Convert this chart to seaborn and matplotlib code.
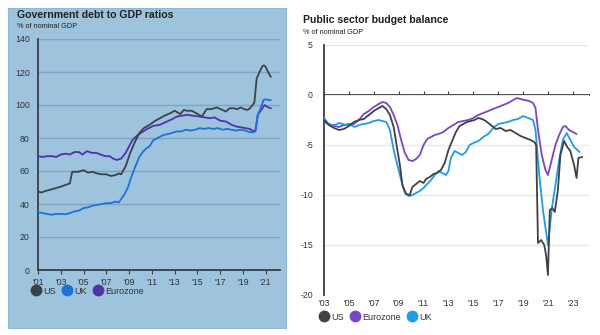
import matplotlib
matplotlib.use("Agg")
import matplotlib.pyplot as plt
import seaborn as sns
import pandas as pd
from matplotlib.lines import Line2D

# ---------------- Data: Government debt to GDP (% of nominal GDP) ----------------
debt_us_years = [2001.0, 2001.3, 2001.7, 2002.0, 2002.5, 2003.0, 2003.4, 2003.8, 2004.0, 2004.5,
                 2005.0, 2005.4, 2005.8, 2006.2, 2006.6, 2007.0, 2007.4, 2007.8, 2008.1, 2008.3,
                 2008.7, 2009.1, 2009.5, 2009.9, 2010.3, 2010.8, 2011.2, 2011.7, 2012.1, 2012.6,
                 2013.0, 2013.5, 2013.8, 2014.1, 2014.5, 2014.9, 2015.4, 2015.8, 2016.2, 2016.7,
                 2017.2, 2017.5, 2017.8, 2018.2, 2018.5, 2018.8, 2019.1, 2019.4, 2019.6, 2019.85,
                 2020.0, 2020.2, 2020.45, 2020.7, 2020.85, 2021.0, 2021.2, 2021.45]
debt_us = [47.5, 47.0, 48.0, 48.5, 49.5, 50.5, 51.5, 52.5, 59.5, 59.5,
           60.5, 59.0, 59.5, 58.5, 58.0, 58.0, 57.0, 57.5, 58.5, 58.0,
           63.0, 71.0, 77.5, 83.0, 86.0, 88.0, 90.0, 92.0, 93.5, 95.0,
           96.5, 94.5, 97.0, 96.5, 96.5, 95.0, 93.0, 97.5, 97.5, 98.5,
           97.0, 96.0, 98.0, 98.0, 97.5, 98.5, 97.5, 97.0, 98.0, 100.0,
           101.5, 116.0, 120.0, 123.5, 124.0, 123.0, 120.0, 117.0]

debt_uk_years = [2001.0, 2001.4, 2001.8, 2002.2, 2002.6, 2003.0, 2003.4, 2003.8, 2004.2, 2004.6,
                 2005.0, 2005.4, 2005.8, 2006.2, 2006.6, 2007.0, 2007.4, 2007.8, 2008.1, 2008.3,
                 2008.6, 2008.9, 2009.1, 2009.5, 2009.9, 2010.2, 2010.5, 2010.8, 2011.1, 2011.5,
                 2012.0, 2012.5, 2013.2, 2013.6, 2014.0, 2014.4, 2014.8, 2015.2, 2015.6, 2016.0,
                 2016.4, 2016.8, 2017.2, 2017.6, 2018.0, 2018.4, 2018.8, 2019.2, 2019.6, 2019.9,
                 2020.1, 2020.3, 2020.55, 2020.8, 2021.0, 2021.2, 2021.45]
debt_uk = [35.0, 34.5, 34.0, 33.5, 34.0, 34.0, 33.8, 34.5, 35.5, 36.0,
           37.5, 38.0, 39.0, 39.5, 40.0, 40.5, 40.5, 41.5, 41.0, 43.0,
           46.0, 50.0, 54.5, 62.0, 68.5, 71.5, 73.7, 75.0, 78.5, 80.0,
           81.8, 82.5, 84.0, 84.0, 85.0, 84.5, 85.0, 86.0, 85.5, 86.0,
           85.5, 86.0, 85.0, 85.5, 85.0, 84.5, 85.0, 84.5, 83.5, 83.5,
           84.0, 94.0, 98.0, 103.0, 103.5, 103.0, 103.0]

debt_ez_years = [2001.0, 2001.4, 2001.8, 2002.2, 2002.6, 2003.0, 2003.4, 2003.8, 2004.2, 2004.6,
                 2004.9, 2005.3, 2005.7, 2006.1, 2006.5, 2006.9, 2007.3, 2007.6, 2007.9, 2008.3,
                 2008.7, 2009.0, 2009.3, 2009.7, 2010.2, 2010.6, 2011.1, 2011.7, 2012.3, 2012.8,
                 2013.2, 2013.6, 2014.1, 2014.6, 2015.2, 2015.6, 2016.1, 2016.5, 2017.0, 2017.5,
                 2018.0, 2018.4, 2018.8, 2019.2, 2019.6, 2019.9, 2020.1, 2020.3, 2020.6, 2020.9,
                 2021.1, 2021.45]
debt_ez = [69.0, 68.5, 69.0, 69.0, 68.5, 70.0, 70.5, 70.0, 71.5, 71.5,
           70.0, 72.0, 71.0, 71.0, 70.0, 69.0, 69.0, 67.5, 66.7, 67.5,
           71.0, 75.0, 78.8, 81.5, 83.8, 85.5, 87.3, 88.0, 89.9, 91.5,
           93.0, 93.5, 94.0, 93.5, 93.0, 92.5, 92.0, 92.5, 90.5, 90.0,
           88.0, 87.0, 86.5, 86.0, 85.5, 84.0, 85.0, 94.0, 97.0, 100.0,
           99.0, 98.0]

debt_ticks = [2001, 2003, 2005, 2007, 2009, 2011, 2013, 2015, 2017, 2019, 2021]
debt_tick_labels = ["'01", "'03", "'05", "'07", "'09", "'11", "'13", "'15", "'17", "'19", "'21"]

# ---------------- Data: Public sector budget balance (% of nominal GDP) ----------------
bal_us_years = [2003.0, 2003.4, 2003.8, 2004.2, 2004.6, 2005.0, 2005.4, 2005.8, 2006.2, 2006.6,
                2007.0, 2007.4, 2007.7, 2008.0, 2008.3, 2008.6, 2008.9, 2009.1, 2009.3, 2009.6,
                2009.9, 2010.1, 2010.4, 2010.7, 2011.0, 2011.2, 2011.5, 2011.8, 2012.1, 2012.4,
                2012.7, 2013.0, 2013.3, 2013.6, 2013.9, 2014.2, 2014.5, 2014.8, 2015.1, 2015.4,
                2015.7, 2016.0, 2016.4, 2016.8, 2017.2, 2017.6, 2018.0, 2018.4, 2018.8, 2019.2,
                2019.6, 2019.9, 2020.05, 2020.2, 2020.45, 2020.7, 2020.85, 2021.0, 2021.15, 2021.35,
                2021.55, 2021.8, 2022.0, 2022.3, 2022.55, 2022.8, 2023.1, 2023.3, 2023.45, 2023.75]
bal_us = [-2.5, -3.0, -3.3, -3.5, -3.4, -3.1, -2.7, -2.5, -2.4, -2.0,
          -1.6, -1.3, -1.1, -1.4, -2.0, -3.2, -5.5, -7.0, -9.0, -9.9,
          -10.0, -9.2, -8.9, -8.6, -8.8, -8.4, -8.2, -7.9, -7.8, -7.5,
          -6.8, -5.5, -4.6, -3.7, -3.1, -2.9, -2.7, -2.6, -2.5, -2.3,
          -2.4, -2.6, -3.0, -3.4, -3.3, -3.6, -3.5, -3.8, -4.1, -4.3,
          -4.5, -4.7, -5.0, -14.8, -14.5, -15.0, -16.0, -18.0, -11.5, -11.3,
          -11.7, -9.5, -6.0, -4.6, -5.2, -5.6, -7.0, -8.3, -6.3, -6.2]

bal_ez_years = [2003.0, 2003.4, 2003.8, 2004.2, 2004.6, 2005.0, 2005.4, 2005.8, 2006.2, 2006.6,
                2007.0, 2007.4, 2007.7, 2008.0, 2008.3, 2008.6, 2008.9, 2009.2, 2009.5, 2009.8,
                2010.1, 2010.4, 2010.7, 2011.0, 2011.3, 2011.6, 2011.9, 2012.2, 2012.6, 2013.0,
                2013.4, 2013.8, 2014.2, 2014.6, 2015.0, 2015.4, 2015.8, 2016.2, 2016.6, 2017.0,
                2017.4, 2017.8, 2018.2, 2018.5, 2018.8, 2019.1, 2019.5, 2019.8, 2020.0, 2020.2,
                2020.5, 2020.8, 2021.0, 2021.3, 2021.6, 2021.9, 2022.2, 2022.4, 2022.7, 2023.0,
                2023.3]
bal_ez = [-2.6, -3.0, -3.1, -3.2, -3.0, -2.9, -2.9, -2.5, -1.9, -1.6,
          -1.2, -0.9, -0.7, -0.8, -1.2, -2.0, -3.0, -4.5, -5.8, -6.5,
          -6.6, -6.4, -6.0, -5.0, -4.4, -4.2, -4.0, -3.9, -3.7, -3.3,
          -3.0, -2.7, -2.6, -2.5, -2.3, -2.0, -1.8, -1.6, -1.4, -1.2,
          -1.0, -0.8, -0.5, -0.3, -0.4, -0.5, -0.6, -0.8, -1.3, -3.5,
          -6.0, -7.5, -8.0, -6.5, -5.0, -4.0, -3.2, -3.1, -3.5, -3.7,
          -3.9]

bal_uk_years = [2003.0, 2003.3, 2003.6, 2003.9, 2004.2, 2004.5, 2004.8, 2005.1, 2005.5, 2005.8,
                2006.2, 2006.6, 2007.0, 2007.4, 2007.7, 2008.0, 2008.3, 2008.6, 2008.9, 2009.2,
                2009.5, 2009.8, 2010.1, 2010.4, 2010.7, 2011.0, 2011.3, 2011.6, 2011.9, 2012.2,
                2012.5, 2012.8, 2013.0, 2013.2, 2013.5, 2013.8, 2014.1, 2014.4, 2014.7, 2015.0,
                2015.4, 2015.8, 2016.2, 2016.6, 2017.0, 2017.4, 2017.8, 2018.2, 2018.6, 2019.0,
                2019.4, 2019.8, 2020.0, 2020.3, 2020.6, 2021.0, 2021.3, 2021.6, 2021.9, 2022.2,
                2022.5, 2022.8, 2023.1, 2023.55]
bal_uk = [-2.3, -2.8, -3.0, -3.0, -2.8, -2.9, -3.0, -3.0, -3.2, -3.0,
          -2.9, -2.8, -2.6, -2.5, -2.6, -2.7, -3.5, -5.5, -7.0, -8.5,
          -9.8, -10.1, -10.0, -9.8, -9.6, -9.3, -8.9, -8.5, -8.0, -7.6,
          -7.8, -8.0, -7.6, -6.3, -5.6, -5.8, -6.0, -5.7, -5.0, -4.8,
          -4.6, -4.2, -3.9, -3.3, -2.9, -2.8, -2.7, -2.5, -2.4, -2.1,
          -2.3, -2.5, -3.5, -8.0, -11.5, -15.0, -11.5, -9.0, -6.5, -4.5,
          -3.8, -4.5, -5.2, -5.7]

bal_ticks = [2003, 2005, 2007, 2009, 2011, 2013, 2015, 2017, 2019, 2021, 2023]
bal_tick_labels = ["'03", "'05", "'07", "'09", "'11", "'13", "'15", "'17", "'19", "'21", "'23"]

# ---------------- Styling ----------------
sns.set_theme(style="white")
plt.rcParams["font.family"] = ["Liberation Sans", "DejaVu Sans"]
plt.rcParams["axes.unicode_minus"] = False

C_US = "#3d4246"
C_UK_L = "#1a73d9"
C_EZ_L = "#5230ae"
C_UK_R = "#1e9bf0"
C_EZ_R = "#7a45c9"
BG = "#9dc3dd"
TXT = "#333333"

fig = plt.figure(figsize=(6.0, 3.35), dpi=100)
fig.patch.set_facecolor("white")

# Left panel background box (drawn on its own background axes)
bg_ax = fig.add_axes([8 / 600, 1 - 328 / 335, 278 / 600, 320 / 335])
bg_ax.set_zorder(0)
bg_ax.set_facecolor(BG)
bg_ax.set_xticks([])
bg_ax.set_yticks([])
for sp in bg_ax.spines.values():
    sp.set_color("#8fb8d6")
    sp.set_linewidth(0.8)

# ---------- Left chart ----------
axL = fig.add_axes([38 / 600, 1 - 270 / 335, 242 / 600, 231 / 335])
axL.set_zorder(1)
axL.set_facecolor(BG)
dfL = pd.concat([
    pd.DataFrame({"year": debt_us_years, "val": debt_us, "s": "US"}),
    pd.DataFrame({"year": debt_uk_years, "val": debt_uk, "s": "UK"}),
    pd.DataFrame({"year": debt_ez_years, "val": debt_ez, "s": "Eurozone"}),
])
sns.lineplot(data=dfL, x="year", y="val", hue="s",
             palette={"US": C_US, "UK": C_UK_L, "Eurozone": C_EZ_L},
             hue_order=["Eurozone", "UK", "US"],
             linewidth=1.3, legend=False, ax=axL, zorder=3)
axL.set_xlim(2001, 2022.25)
axL.set_ylim(0, 140)
axL.set_yticks(range(0, 141, 20))
axL.set_xticks(debt_ticks)
axL.set_xticklabels(debt_tick_labels)
axL.grid(axis="y", color="#7ea5c2", linewidth=1.0, zorder=1)
axL.set_axisbelow(True)
for sp in ["top", "right"]:
    axL.spines[sp].set_visible(False)
for sp in ["left", "bottom"]:
    axL.spines[sp].set_color("#3a3f44")
    axL.spines[sp].set_linewidth(1.3)
axL.tick_params(axis="y", length=0, labelsize=6.3, labelcolor=TXT, pad=6)
axL.tick_params(axis="x", length=3, width=0.8, color="#3a3f44", direction="out",
                labelsize=6.3, labelcolor=TXT, pad=3, bottom=True)
axL.set_xlabel("")
axL.set_ylabel("")

fig.text(17 / 600, 1 - 15 / 335, "Government debt to GDP ratios", fontsize=7.6,
         fontweight="bold", color="#222222", va="center", ha="left", zorder=5)
fig.text(17 / 600, 1 - 26 / 335, "% of nominal GDP", fontsize=5.3,
         color="#222222", va="center", ha="left", zorder=5)

hL = [Line2D([], [], marker="o", linestyle="", markersize=7.5, color=c, label=l)
      for c, l in [(C_US, "US"), (C_UK_L, "UK"), (C_EZ_L, "Eurozone")]]
legL = fig.legend(handles=hL, loc="center left", bbox_to_anchor=(27 / 600, 1 - 291 / 335),
                  ncol=3, frameon=False, fontsize=6.5, handletextpad=0.3,
                  columnspacing=0.75, borderpad=0, handlelength=1.0,
                  labelcolor="#333333")
legL.set_zorder(5)

# ---------- Right chart ----------
axR = fig.add_axes([324 / 600, 1 - 295 / 335, 265 / 600, 250 / 335])
axR.set_facecolor("white")
dfR = pd.concat([
    pd.DataFrame({"year": bal_us_years, "val": bal_us, "s": "US"}),
    pd.DataFrame({"year": bal_ez_years, "val": bal_ez, "s": "Eurozone"}),
    pd.DataFrame({"year": bal_uk_years, "val": bal_uk, "s": "UK"}),
])
sns.lineplot(data=dfR, x="year", y="val", hue="s",
             palette={"US": C_US, "UK": C_UK_R, "Eurozone": C_EZ_R},
             hue_order=["Eurozone", "UK", "US"],
             linewidth=1.3, legend=False, ax=axR, zorder=3)
axR.set_xlim(2003, 2024.3)
axR.set_ylim(-20, 5)
axR.set_yticks(range(-20, 6, 5))
axR.set_xticks(bal_ticks)
axR.set_xticklabels(bal_tick_labels)
axR.grid(axis="y", color="#e6e6e6", linewidth=0.9, zorder=1)
axR.set_axisbelow(True)
for sp in ["top", "right", "bottom"]:
    axR.spines[sp].set_visible(False)
axR.spines["left"].set_color("#3a3f44")
axR.spines["left"].set_linewidth(1.3)
axR.tick_params(axis="y", length=0, labelsize=6.3, labelcolor=TXT, pad=8)
axR.tick_params(axis="x", length=0, labelsize=6.3, labelcolor=TXT, pad=3)
axR.set_xlabel("")
axR.set_ylabel("")

# zero line with tick marks
sec = axR.secondary_xaxis(20 / 25)
sec.set_xticks(bal_ticks)
sec.set_xticklabels([])
sec.spines["bottom"].set_color("#3a3f44")
sec.spines["bottom"].set_linewidth(1.0)
sec.tick_params(axis="x", length=3, width=0.8, color="#3a3f44", direction="out")

fig.text(303 / 600, 1 - 20 / 335, "Public sector budget balance", fontsize=7.6,
         fontweight="bold", color="#222222", va="center", ha="left")
fig.text(303 / 600, 1 - 32 / 335, "% of nominal GDP", fontsize=5.3,
         color="#222222", va="center", ha="left")

hR = [Line2D([], [], marker="o", linestyle="", markersize=7.5, color=c, label=l)
      for c, l in [(C_US, "US"), (C_EZ_R, "Eurozone"), (C_UK_R, "UK")]]
fig.legend(handles=hR, loc="center left", bbox_to_anchor=(315 / 600, 1 - 317 / 335),
           ncol=3, frameon=False, fontsize=6.5, handletextpad=0.3,
           columnspacing=0.75, borderpad=0, handlelength=1.0,
           labelcolor="#333333")

fig.savefig("out.png", dpi=100)
